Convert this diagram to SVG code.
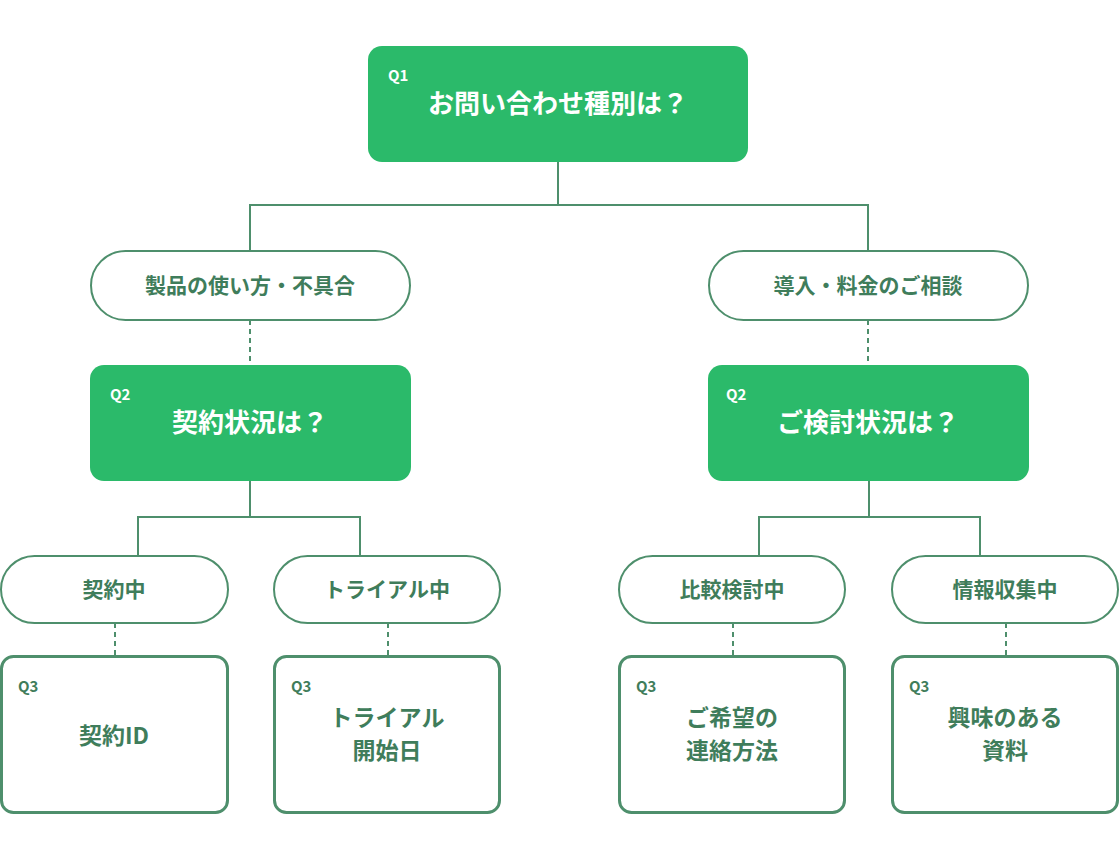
<svg xmlns="http://www.w3.org/2000/svg" width="1120" height="860" viewBox="0 0 1120 860">
<style>
text{font-family:"Noto Sans CJK JP","Noto Sans",sans-serif;font-weight:700;text-anchor:middle}
.q{fill:#2bba6a}
.qt{fill:#fff;font-size:26px}
.ql{fill:#fff;font-size:15px;text-anchor:start}
.pill{fill:#fff;stroke:#4e8f6c;stroke-width:2}
.pt{fill:#3f7d5b;font-size:21px}
.box{fill:#fff;stroke:#4e8f6c;stroke-width:3}
.bt{fill:#3f7d5b;font-size:23px}
.bl{fill:#3f7d5b;font-size:15px;text-anchor:start}
.ln{fill:none;stroke:#4e8f6c;stroke-width:2}
.dl{fill:none;stroke:#4e8f6c;stroke-width:2;stroke-dasharray:5 4}
</style>
<rect width="1120" height="860" fill="#fff"/>
<g id="connectors">
<path class="ln" d="M558 162V205M250 250V205H868V250"/>
<path class="dl" d="M250 320V365M868 320V365"/>
<path class="ln" d="M250 481V517M138 555V517H360V555"/>
<path class="ln" d="M869 481V517M759 555V517H980V555"/>
<path class="dl" d="M115 623V655M388 623V655M733 623V655M1006 623V655"/>
</g>
<g id="q1"><rect class="q" x="368" y="46" width="380" height="116" rx="14"/><text class="ql" x="388" y="81">Q1</text><text class="qt" x="558" y="113">お問い合わせ種別は？</text></g>
<g id="a1"><rect class="pill" x="91" y="251" width="319" height="69" rx="34.5"/><text class="pt" x="250" y="293">製品の使い方・不具合</text></g>
<g id="a2"><rect class="pill" x="709" y="251" width="319" height="69" rx="34.5"/><text class="pt" x="868" y="293">導入・料金のご相談</text></g>
<g id="q2a"><rect class="q" x="90" y="365" width="321" height="116" rx="14"/><text class="ql" x="110" y="400">Q2</text><text class="qt" x="250" y="432">契約状況は？</text></g>
<g id="q2b"><rect class="q" x="708" y="365" width="321" height="116" rx="14"/><text class="ql" x="726" y="400">Q2</text><text class="qt" x="868" y="432">ご検討状況は？</text></g>
<g id="b1"><rect class="pill" x="1" y="556" width="227" height="67" rx="33.5"/><text class="pt" x="114" y="597">契約中</text></g>
<g id="b2"><rect class="pill" x="274" y="556" width="226" height="67" rx="33.5"/><text class="pt" x="387" y="597">トライアル中</text></g>
<g id="b3"><rect class="pill" x="619" y="556" width="226" height="67" rx="33.5"/><text class="pt" x="732" y="597">比較検討中</text></g>
<g id="b4"><rect class="pill" x="892" y="556" width="226" height="67" rx="33.5"/><text class="pt" x="1005" y="597">情報収集中</text></g>
<g id="c1"><rect class="box" x="1.5" y="656.5" width="226" height="156" rx="12"/><text class="bl" x="18" y="692">Q3</text><text class="bt" x="114" y="744">契約ID</text></g>
<g id="c2"><rect class="box" x="274.5" y="656.5" width="225" height="156" rx="12"/><text class="bl" x="291" y="692">Q3</text><text class="bt" x="387" y="726">トライアル</text><text class="bt" x="387" y="759">開始日</text></g>
<g id="c3"><rect class="box" x="619.5" y="656.5" width="225" height="156" rx="12"/><text class="bl" x="636" y="692">Q3</text><text class="bt" x="732" y="726">ご希望の</text><text class="bt" x="732" y="759">連絡方法</text></g>
<g id="c4"><rect class="box" x="892.5" y="656.5" width="225" height="156" rx="12"/><text class="bl" x="909" y="692">Q3</text><text class="bt" x="1005" y="726">興味のある</text><text class="bt" x="1005" y="759">資料</text></g>
</svg>
